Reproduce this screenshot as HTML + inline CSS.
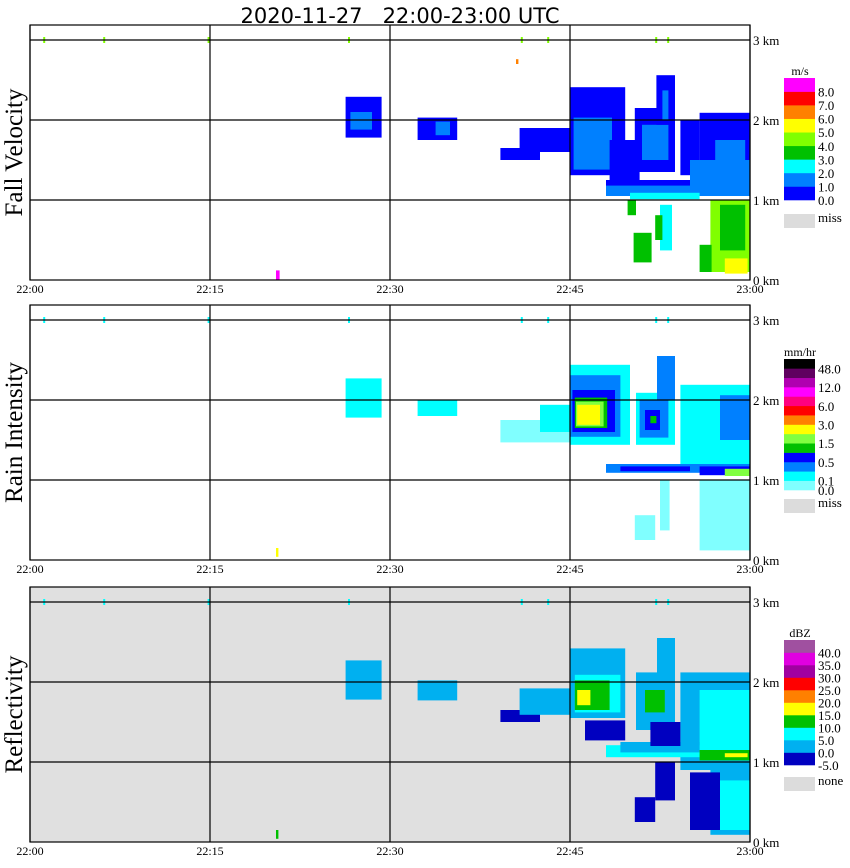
<!DOCTYPE html>
<html><head><meta charset="utf-8">
<style>
body{margin:0;background:#fff;}
svg{display:block;font-family:"Liberation Serif",serif;}
</style></head>
<body>
<svg id="chart" width="850" height="868" viewBox="0 0 850 868" xmlns="http://www.w3.org/2000/svg">
<text x="400" y="23" text-anchor="middle" font-family="DejaVu Sans, sans-serif" font-size="21" style="white-space:pre">2020-11-27   22:00-23:00 UTC</text>
</svg>
<script>
// ---- data ----
const timeTicks = ["22:00","22:15","22:30","22:45","23:00"];
const tickMinutes = [0,15,30,45,60];
const heightTicks = [0,1,2,3];
const panelTitles = ["Fall Velocity","Rain Intensity","Reflectivity"];
const fvColors = ["#0000ff","#0080ff","#00ffff","#00c000","#80ff00","#ffff00","#ff8000","#ff0000","#ff00ff"];
const fvLabels = ["0.0","1.0","2.0","3.0","4.0","5.0","6.0","7.0","8.0"];
const riColors = ["#80ffff","#00ffff","#0080ff","#0000ff","#00c000","#80ff40","#ffff00","#ff8000","#ff0000","#ff0080","#ff00ff","#b000b0","#600060","#000000"];
const riLabels = ["0.0","0.1","","0.5","","1.5","","3.0","","6.0","","12.0","","48.0"];
const zColors = ["#0000c0","#00b0f0","#00ffff","#00c000","#ffff00","#ff8000","#ff0000","#a000a0","#e000e0","#a050a0"];
const zLabels = ["-5.0","0.0","5.0","10.0","15.0","20.0","25.0","30.0","35.0","40.0"];
// blobs: [minStart, minEnd, kmLow, kmHigh, level]
const fvBlobs = [
[26.3,29.3,1.78,2.29,0],[26.7,28.5,1.88,2.1,1],[32.3,35.6,1.75,2.03,0],[33.8,35,1.81,1.98,1],
[39.2,42.5,1.5,1.65,0],[40.8,45,1.6,1.9,0],[45,49.6,1.31,2.41,0],[45.3,48.5,1.38,2.03,1],
[48.3,50.8,1.25,1.75,0],[50.4,53.75,1.35,2.15,0],[51,53.2,1.5,1.94,1],[52.2,53.75,1.94,2.56,0],
[52.7,53.2,2.0,2.37,1],[54.2,55.8,1.31,2.0,0],[55.8,60,1.19,2.09,0],[57.1,59.6,1.25,1.75,1],
[48,60,1.1,1.25,0],[48,60,1.05,1.18,1],[55,60,1.06,1.5,1],[50,55.8,1.01,1.09,2],
[56.7,60,0.1,1.0,4],[57.5,59.6,0.37,0.94,3],[57.9,59.8,0.08,0.27,5],[50.3,51.8,0.22,0.59,3],
[52.5,53.5,0.37,0.94,2],[52.1,52.7,0.5,0.81,3],[55.8,56.8,0.1,0.44,3],[49.8,50.5,0.81,1.0,3],
[20.5,20.8,0,0.12,8],[40.5,40.7,2.7,2.76,6]
];
const riBlobs = [
[26.3,29.3,1.78,2.27,1],[32.3,35.6,1.8,2.0,1],[39.2,45,1.47,1.75,0],[42.5,45,1.6,1.94,1],
[45,50,1.44,2.44,1],[45,49.2,1.54,2.31,2],[45.2,48.75,1.6,2.125,3],[45.4,48.1,1.65,2.03,4],
[45.5,47.8,1.67,1.98,5],[45.6,47.5,1.69,1.94,6],
[50.5,53.75,1.44,2.09,1],[50.8,53.2,1.53,2.0,2],[51.25,52.5,1.625,1.875,3],[51.7,52.2,1.71,1.8,4],
[52.25,53.75,2.0,2.55,2],[54.2,60,1.12,2.19,1],[57.5,60,1.5,2.06,2],
[48,60,1.09,1.2,2],[49.2,55,1.11,1.17,3],[55.8,60,1.06,1.17,3],[57.9,60,1.05,1.14,5],
[55.8,60,0.12,1.0,0],[50.4,52.1,0.25,0.56,0],[52.5,53.3,0.37,1.0,0],[20.5,20.7,0.04,0.15,6]
];
const zBlobs = [
[26.3,29.3,1.78,2.27,1],[32.3,35.6,1.77,2.02,1],[39.2,42.5,1.5,1.65,0],[40.8,45,1.59,1.92,1],
[45,49.6,1.55,2.42,1],[45.4,49.2,1.62,2.09,2],[45.4,48.3,1.65,2.02,3],[45.6,46.7,1.71,1.9,4],
[46.25,49.6,1.27,1.52,0],[50.5,53.75,1.4,2.12,1],[51.25,52.9,1.62,1.9,3],[52.25,53.75,1.9,2.55,1],
[54.2,60,0.9,2.12,1],[55.8,60,1.02,1.9,2],[48,60,1.06,1.21,2],[49.2,55.8,1.12,1.25,1],
[55.8,60,1.02,1.15,3],[57.9,59.8,1.06,1.11,4],[56.7,60,0.09,0.96,1],[57.5,60,0.15,0.77,2],
[50.4,52.1,0.25,0.56,0],[52.1,53.75,0.52,1.0,0],[51.7,54.2,1.2,1.5,0],[55,57.5,0.15,0.87,0],
[20.5,20.7,0.04,0.15,3]
];
const topMarks = [1.1,6.1,14.8,26.5,40.9,43.1,52.1,53.1];
// ---- layout ----
const panels = [
 {top:25, base:280, blobs:fvBlobs, colors:fvColors, labels:fvLabels, unit:"m/s", miss:"miss", bg:"#fff", mark:"#80ff00", cb:[78,200], missY:214},
 {top:305, base:560, blobs:riBlobs, colors:riColors, labels:riLabels, unit:"mm/hr", miss:"miss", bg:"#fff", mark:"#00ffff", cb:[359,490], missY:499},
 {top:587, base:842, blobs:zBlobs, colors:zColors, labels:zLabels, unit:"dBZ", miss:"none", bg:"#e0e0e0", mark:"#00ffff", cb:[640,765], missY:777}
];
const svg = document.getElementById('chart');
const NS = "http://www.w3.org/2000/svg";
const X0 = 30, PXMIN = 12, PXKM = 80;
function xs(m){return X0 + m*PXMIN;}
function mk(tag, attrs){const e=document.createElementNS(NS,tag);for(const k in attrs)e.setAttribute(k,attrs[k]);svg.appendChild(e);return e;}
panels.forEach((p,pi)=>{
  const ys = km => p.base - km*PXKM;
  const bg = mk('rect',{x:X0,y:p.top,width:720,height:p.base-p.top,fill:p.bg});
  
  
  p.blobs.forEach(b=>{
    const r = mk('rect',{x:xs(b[0]),y:ys(b[3]),width:xs(b[1])-xs(b[0]),height:ys(b[2])-ys(b[3]),fill:p.colors[b[4]]});
    
    
  });
  topMarks.forEach(m=>{
    const r = mk('rect',{x:xs(m),y:ys(3)-3,width:2,height:6,fill:p.mark});
    
    
  });
  heightTicks.forEach(h=>{
    if(h>0){
      const l = mk('line',{x1:X0,x2:X0+720,y1:ys(h),y2:ys(h),stroke:'#000','stroke-width':1.2});
      
      
    }
    const t = mk('text',{x:753,y:ys(h)+5,'font-size':13});
    t.textContent = h+" km";
    
    
  });
  tickMinutes.forEach((m,i)=>{
    const l = mk('line',{x1:xs(m),x2:xs(m),y1:p.top,y2:p.base,stroke:'#000','stroke-width':1.2});
    
    
    const t = mk('text',{x:xs(m),y:p.base+13,'font-size':12,'text-anchor':'middle'});
    t.textContent = timeTicks[i];
    
    
  });
  const fr = mk('rect',{x:X0,y:p.top,width:720,height:p.base-p.top,fill:'none',stroke:'#000','stroke-width':1.2});
  
  
  const ttl = mk('text',{x:0,y:0,'font-size':25,'text-anchor':'middle',transform:`translate(22,${(p.top+p.base)/2}) rotate(-90)`});
  ttl.textContent = panelTitles[pi];
  
  
  // colorbar
  const n = p.colors.length, h = (p.cb[1]-p.cb[0])/n;
  const u = mk('text',{x:800,y:p.cb[0]-3,'font-size':12,'text-anchor':'middle'});
  u.textContent = p.unit;
  
  
  p.colors.forEach((c,i)=>{
    const y = p.cb[1]-(i+1)*h;
    const r = mk('rect',{x:784,y:y,width:31,height:h+0.3,fill:c});
    
    
    if(p.labels[i]){
      const t = mk('text',{x:818,y:y+h+5,'font-size':13});
      t.textContent = p.labels[i];
      
      
    }
  });
  const mr = mk('rect',{x:784,y:p.missY,width:31,height:14,fill:'#dcdcdc'});
  
  
  const mt = mk('text',{x:818,y:p.missY+8,'font-size':13});
  mt.textContent = p.miss;
  
  
});
</script>
</body></html>
